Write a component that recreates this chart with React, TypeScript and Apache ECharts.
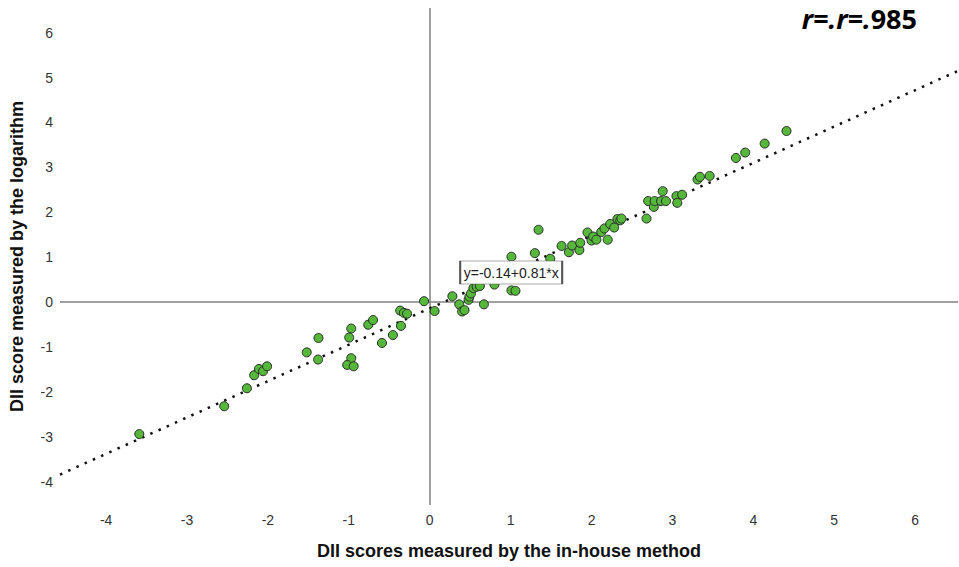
import React, { useEffect, useRef } from "react";
import * as echarts from "echarts";

// In-house method (x) vs logarithm (y) DII scores
const xValues: number[] = [
  -3.59, -2.54, -2.26, -2.17, -2.11, -2.06, -2.01, -1.52, -1.375, -1.38,
  -0.97, -0.995, -0.97, -1.02, -0.94, -0.76, -0.7, -0.59, -0.455, -0.365,
  -0.32, -0.28, -0.355, -0.07, 0.06, 0.28, 0.365, 0.4, 0.43, 0.48,
  0.49, 0.51, 0.54, 0.58, 0.62, 0.67, 0.8, 1.01, 1.01, 1.06,
  1.3, 1.345, 1.49, 1.63, 1.72, 1.76, 1.85, 1.86, 1.95, 2.0,
  2.02, 2.06, 2.12, 2.16, 2.2, 2.23, 2.28, 2.32, 2.355, 2.37,
  2.68, 2.7, 2.77, 2.78, 2.86, 2.88, 2.92, 3.05, 3.06, 3.12,
  3.31, 3.34, 3.46, 3.785, 3.9, 4.14, 4.41,
];
const yValues: number[] = [
  -2.94, -2.32, -1.92, -1.63, -1.49, -1.54, -1.43, -1.12, -0.8, -1.28,
  -0.59, -0.79, -1.25, -1.4, -1.43, -0.505, -0.4, -0.91, -0.735, -0.19,
  -0.24, -0.26, -0.53, 0.02, -0.2, 0.13, -0.05, -0.21, -0.18, 0.05,
  0.12, 0.19, 0.31, 0.34, 0.36, -0.05, 0.39, 1.01, 0.26, 0.25,
  1.09, 1.61, 0.965, 1.25, 1.11, 1.26, 1.16, 1.32, 1.55, 1.37,
  1.46, 1.39, 1.56, 1.64, 1.39, 1.74, 1.66, 1.85, 1.82, 1.86,
  1.86, 2.25, 2.12, 2.25, 2.25, 2.47, 2.25, 2.36, 2.21, 2.39,
  2.73, 2.79, 2.81, 3.21, 3.33, 3.53, 3.81,
];

const intercept = -0.14;
const slope = 0.81;
const equationText = "y=-0.14+0.81*x";
const corrText = ["r=.r=.", "985"];
const xAxisTitle = "DII scores measured by the in-house method";
const yAxisTitle = "DII score measured by the logarithm";

const X_MIN = -4.57;
const X_MAX = 6.53;
const Y_MIN = -4.52;
const Y_MAX = 6.55;
const LABEL_POS: [number, number] = [1.007, 0.657];

const TICK_FONT = "'Liberation Sans Narrow', 'Arial Narrow', 'Liberation Sans', Arial, sans-serif";
const TITLE_FONT = "'Liberation Sans', Arial, sans-serif";

export default function App() {
  const ref = useRef<HTMLDivElement>(null);
  useEffect(() => {
    document.body.style.margin = "0";
    if (!ref.current) return;
    const chart = echarts.init(ref.current, null, { renderer: "svg" });
    const points = xValues.map((x, i) => [x, yValues[i]]);
    const fit = [
      [X_MIN, intercept + slope * X_MIN],
      [X_MAX, intercept + slope * X_MAX],
    ];
    const intLabel = (v: number) =>
      Math.abs(v - Math.round(v)) < 1e-6 ? String(Math.round(v)) : "";
    chart.setOption({
      animation: false,
      backgroundColor: "#ffffff",
      textStyle: { fontFamily: TITLE_FONT },
      grid: { left: 60, right: 1, top: 8, bottom: 62, containLabel: false },
      xAxis: {
        type: "value",
        min: X_MIN,
        max: X_MAX,
        splitNumber: 11,
        minInterval: 1,
        maxInterval: 1,
        axisLine: { show: false },
        axisTick: { show: false },
        splitLine: { show: false },
        axisLabel: {
          formatter: intLabel,
          color: "#333333",
          fontSize: 14,
          fontFamily: TICK_FONT,
          margin: 8,
          showMinLabel: false,
          showMaxLabel: false,
        },
        name: xAxisTitle,
        nameLocation: "middle",
        nameGap: 37,
        nameTextStyle: { fontSize: 18, fontWeight: "bold", color: "#111111", fontFamily: TITLE_FONT },
      },
      yAxis: {
        type: "value",
        min: Y_MIN,
        max: Y_MAX,
        splitNumber: 11,
        minInterval: 1,
        maxInterval: 1,
        axisLine: { show: false },
        axisTick: { show: false },
        splitLine: { show: false },
        axisLabel: {
          formatter: intLabel,
          color: "#333333",
          fontSize: 14,
          fontFamily: TICK_FONT,
          margin: 7,
          showMinLabel: false,
          showMaxLabel: false,
        },
        name: yAxisTitle,
        nameLocation: "middle",
        nameGap: 34,
        nameTextStyle: { fontSize: 18, fontWeight: "bold", color: "#111111", fontFamily: TITLE_FONT },
      },
      series: [
        {
          type: "line",
          data: fit,
          symbol: "none",
          z: 2,
          lineStyle: { color: "#111111", width: 2.5, type: [2.5, 6.5], cap: "butt" },
          silent: true,
          markPoint: {
            z: 6,
            silent: true,
            symbol: "rect",
            symbolSize: [102, 23],
            itemStyle: { color: "#ffffff", borderColor: "#555555", borderWidth: 1 },
            label: {
              show: true,
              position: "inside",
              formatter: equationText,
              color: "#222222",
              fontSize: 14,
              fontFamily: TICK_FONT,
            },
            data: [{ coord: LABEL_POS }],
          },
        },
        {
          type: "scatter",
          data: points,
          symbol: "circle",
          symbolSize: 9,
          z: 3,
          itemStyle: { color: "#55b83a", borderColor: "#2a2a2a", borderWidth: 1, opacity: 1 },
          markLine: {
            z: 1,
            silent: true,
            symbol: "none",
            label: { show: false },
            lineStyle: { color: "#808080", width: 1.5, type: "solid" },
            data: [{ xAxis: 0 }, { yAxis: 0 }],
          },
        },
      ],
      graphic: [
        {
          type: "text",
          right: 42,
          top: 5,
          style: {
            text: `{i|${corrText[0]}}{n|${corrText[1]}}`,
            rich: {
              i: {
                fontSize: 27,
                lineHeight: 30,
                fontWeight: "bold",
                fontStyle: "italic",
                fontFamily: "'Open Sans', sans-serif",
                fill: "#000000",
              },
              n: {
                fontSize: 27,
                lineHeight: 30,
                fontWeight: "bold",
                fontFamily: "'Open Sans', sans-serif",
                fill: "#000000",
              },
            },
          },
        },
      ],
    });
    return () => chart.dispose();
  }, []);
  return <div ref={ref} style={{ width: 959, height: 567 }} />;
}
